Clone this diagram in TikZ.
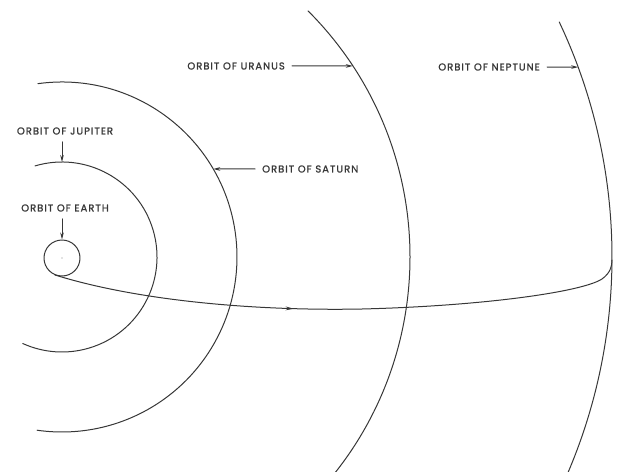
\documentclass[tikz,border=0pt]{standalone}
\usepackage{fontspec}
\usetikzlibrary{arrows.meta,decorations.markings}
\newfontfamily\lblfont{Poppins}[LetterSpace=10,FakeBold=1.2]
\definecolor{Inkgray}{RGB}{55,55,55}

\begin{document}
\begin{tikzpicture}[x=1pt,y=1pt,line cap=round,line join=round,
  orbit/.style={draw=Inkgray,line width=1pt},
  orbitlabel/.style={inner sep=3pt,text=Inkgray,font=\lblfont\fontsize{10}{11}\selectfont},
  pointer/.style={draw=Inkgray,line width=1pt,shorten <=4pt,-{Stealth[length=7pt,width=3.6pt]}}]
\path[use as bounding box] (-62,-214) rectangle (555,257);
\clip (-62,-214) rectangle (555,257);
\draw[orbit] (106.5:95) arc[start angle=106.5,end angle=-114.4,radius=95];
\draw[orbit] (97.9:175) arc[start angle=97.9,end angle=-98.2,radius=175];
\draw[orbit] (45:348) arc[start angle=45,end angle=-45,radius=348];
\draw[orbit] (25.3:550) arc[start angle=25.3,end angle=-28,radius=550];
\node[circle,orbit,minimum size=36pt,inner sep=0pt] (earth) at (0,-1) {};
\fill[Inkgray!60] (earth.center) circle[radius=0.6pt];
\coordinate (launch) at (-7,-18);
\coordinate (arrival) at (550,-3);
\draw[orbit,postaction={decorate},decoration={markings,mark=at position 0.42 with {\arrow{Stealth[length=8pt,width=3.8pt]}}}]
  (launch) .. controls (80,-45) and (200,-54) .. (300,-52) .. controls (420,-49) and (520,-35) .. (540,-22) .. controls (548,-16) and (550,-10) .. (arrival);
\coordinate (jupiterpt) at (90:95);
\coordinate (saturnpt) at (30.2:175);
\coordinate (uranuspt) at (33.3:348);
\coordinate (neptunept) at (20.2:550);
\node[orbitlabel] (jupiterlbl) at (3,126) {ORBIT OF JUPITER};
\node[orbitlabel] (earthlbl) at (3,49) {ORBIT OF EARTH};
\node[orbitlabel,anchor=west] (saturnlbl) at (197,88) {ORBIT OF SATURN};
\node[orbitlabel,anchor=east] (uranuslbl) at (226,191) {ORBIT OF URANUS};
\node[orbitlabel,anchor=east] (neptunelbl) at (481,190) {ORBIT OF NEPTUNE};
\draw[pointer] (jupiterlbl.south -| jupiterpt) -- (jupiterpt);
\draw[pointer] (earthlbl.south -| earth.north) -- (earth.north);
\draw[pointer] (saturnlbl.west) -- (saturnpt);
\draw[pointer] (uranuslbl.east) -- (uranuspt);
\draw[pointer] (neptunelbl.east) -- (neptunept);
\end{tikzpicture}
\end{document}
